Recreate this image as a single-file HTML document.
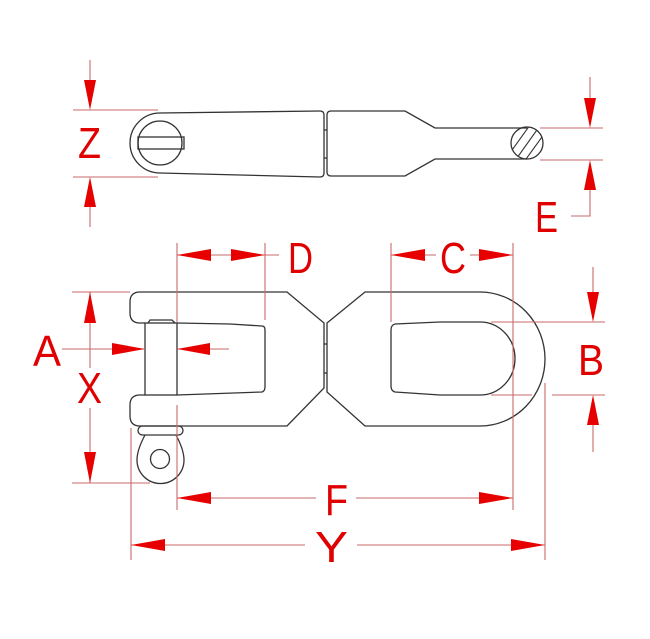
<!DOCTYPE html>
<html><head><meta charset="utf-8"><style>
html,body{margin:0;padding:0;background:#fff;}
svg{display:block;}
.o{fill:none;stroke:#333;stroke-width:1.3;}
.d{stroke:#c96a6a;stroke-width:1.1;fill:none;}
.a{fill:#e60000;stroke:none;}
.t{fill:#e00000;font-family:"Liberation Sans Narrow","Liberation Sans",sans-serif;font-size:44px;}
</style></head><body>
<svg width="650" height="639" viewBox="0 0 650 639" xmlns="http://www.w3.org/2000/svg">
<defs>
<clipPath id="hc"><circle cx="527" cy="143" r="16"/></clipPath>
</defs>
<!-- TOP VIEW -->
<path class="o" d="M160,113 L320,111 Q324,111 324,115 L324,173 Q324,177 320,177 L160,173 A30,30 0 0 1 160,113 Z"/>
<circle class="o" cx="160" cy="143" r="22"/>
<rect class="o" x="138" y="137" width="46" height="12"/>
<path class="o" d="M527,128 L435,128 L405,111 L331,111 Q327,111 327,115 L327,172 Q327,176 331,176 L405,176 L435,159 L527,159"/>
<line class="o" x1="324" y1="130" x2="327" y2="130"/><line class="o" x1="324" y1="158" x2="327" y2="158"/>
<circle class="o" cx="527" cy="143" r="16"/>
<g clip-path="url(#hc)" stroke="#333" stroke-width="1.1">
<line x1="505" y1="160" x2="530" y2="125"/><line x1="512" y1="165" x2="539" y2="127"/><line x1="521" y1="166" x2="547" y2="130"/><line x1="500" y1="150" x2="520" y2="122"/>
</g>
<!-- Z -->
<line class="d" x1="73" y1="110" x2="158" y2="110"/><line class="d" x1="73" y1="177" x2="158" y2="177"/>
<line class="d" x1="90" y1="60" x2="90" y2="100"/><polygon class="a" points="84,80 96,80 90,110"/>
<line class="d" x1="90" y1="190" x2="90" y2="227"/><polygon class="a" points="84,207 96,207 90,177"/>
<text class="t" x="78" y="158" textLength="23" lengthAdjust="spacingAndGlyphs">Z</text>
<!-- E -->
<line class="d" x1="540" y1="128" x2="603" y2="128"/><line class="d" x1="540" y1="160" x2="603" y2="160"/>
<line class="d" x1="590" y1="77" x2="590" y2="110"/><polygon class="a" points="584,98 596,98 590,128"/>
<polyline class="d" points="590,180 590,216 571,216"/><polygon class="a" points="584,190 596,190 590,160"/>
<text class="t" x="535" y="232" textLength="23" lengthAdjust="spacingAndGlyphs">E</text>

<!-- BOTTOM VIEW left shackle -->
<path class="o" d="M140,292 L287,292 L324,323 L324,388 L287,426 L140,426 Q130,426 130,416 L130,405 Q130,395 140,395 L145,395 M177,395 L262,392 Q265,391 265,387 L265,330 Q265,326 262,326 L230,324 L177,323 M145,323 L140,323 Q130,323 130,313 L130,302 Q130,292 140,292"/>
<rect class="o" x="145" y="323" width="32" height="72"/>
<path class="o" d="M148,323 L150,320 L172,320 L175,323"/>
<rect class="o" x="138" y="426" width="45" height="9" rx="4.5"/>
<path class="o" d="M145,435 Q137,450 137,460 A23.5,23.5 0 0 0 184,460 Q184,450 176,435"/>
<circle class="o" cx="160" cy="459" r="9.5"/>
<!-- right shackle -->
<path class="o" d="M327,323 L365,292 L480,292 A65,67 0 0 1 480,426 L365,426 L327,392 Z"/>
<line class="o" x1="324" y1="344" x2="327" y2="344"/><line class="o" x1="324" y1="373" x2="327" y2="373"/>
<path class="o" d="M395,324 L440,322 L480,322 A35,36.5 0 0 1 480,395 L440,395 L395,392 Q391,391 391,386 L391,330 Q391,325 395,324 Z"/>

<!-- D -->
<line class="d" x1="177" y1="243" x2="177" y2="322"/><line class="d" x1="265" y1="243" x2="265" y2="320"/>
<line class="d" x1="177" y1="255" x2="279" y2="255"/>
<polygon class="a" points="177,255 211,249 211,261"/><polygon class="a" points="265,255 231,249 231,261"/>
<text class="t" x="288" y="273" textLength="25" lengthAdjust="spacingAndGlyphs">D</text>
<!-- C -->
<line class="d" x1="391" y1="243" x2="391" y2="322"/><line class="d" x1="513" y1="243" x2="513" y2="510"/>
<line class="d" x1="391" y1="255" x2="436" y2="255"/><line class="d" x1="470" y1="255" x2="513" y2="255"/>
<polygon class="a" points="391,255 425,249 425,261"/><polygon class="a" points="513,255 479,249 479,261"/>
<text class="t" x="440" y="273" textLength="26" lengthAdjust="spacingAndGlyphs">C</text>
<!-- B -->
<line class="d" x1="491" y1="322" x2="605" y2="322"/>
<line class="d" x1="491" y1="395" x2="532" y2="395"/><line class="d" x1="552" y1="395" x2="605" y2="395"/>
<line class="d" x1="593" y1="267" x2="593" y2="300"/><polygon class="a" points="587,292 599,292 593,322"/>
<line class="d" x1="593" y1="420" x2="593" y2="452"/><polygon class="a" points="587,425 599,425 593,395"/>
<text class="t" x="578" y="375" textLength="26" lengthAdjust="spacingAndGlyphs">B</text>
<!-- X -->
<line class="d" x1="72" y1="292" x2="130" y2="292"/><line class="d" x1="72" y1="483" x2="150" y2="483"/>
<line class="d" x1="90" y1="292" x2="90" y2="368"/><line class="d" x1="90" y1="408" x2="90" y2="483"/>
<polygon class="a" points="84,323 96,323 90,292"/><polygon class="a" points="84,452 96,452 90,483"/>
<text class="t" x="77" y="403" textLength="25" lengthAdjust="spacingAndGlyphs">X</text>
<!-- A -->
<line class="d" x1="62" y1="349" x2="145" y2="349"/><line class="d" x1="177" y1="349" x2="229" y2="349"/>
<polygon class="a" points="145,349 112,343 112,355"/><polygon class="a" points="177,349 210,343 210,355"/>
<text class="t" x="33" y="366" textLength="28" lengthAdjust="spacingAndGlyphs">A</text>
<!-- F -->
<line class="d" x1="177" y1="405" x2="177" y2="510"/>
<line class="d" x1="177" y1="498" x2="316" y2="498"/><line class="d" x1="356" y1="498" x2="513" y2="498"/>
<polygon class="a" points="177,498 211,492 211,504"/><polygon class="a" points="513,498 479,492 479,504"/>
<text class="t" x="325" y="515" textLength="23" lengthAdjust="spacingAndGlyphs">F</text>
<!-- Y -->
<line class="d" x1="131" y1="428" x2="131" y2="560"/><line class="d" x1="545" y1="383" x2="545" y2="560"/>
<line class="d" x1="131" y1="545" x2="305" y2="545"/><line class="d" x1="357" y1="545" x2="545" y2="545"/>
<polygon class="a" points="131,545 165,539 165,551"/><polygon class="a" points="545,545 511,539 511,551"/>
<text class="t" x="315" y="562" textLength="33" lengthAdjust="spacingAndGlyphs">Y</text>
</svg>
</body></html>
